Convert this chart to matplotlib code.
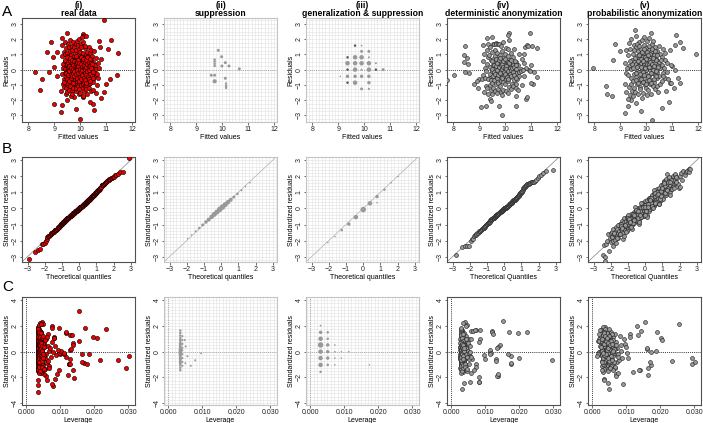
import numpy as np
import matplotlib
matplotlib.use("Agg")
import matplotlib.pyplot as plt
from matplotlib.ticker import MultipleLocator
from statistics import NormalDist

plt.rcParams['font.family'] = ['Liberation Sans', 'DejaVu Sans']

# ---------------- text ----------------
col_titles = ["(i)", "(ii)", "(iii)", "(iv)", "(v)"]
col_names = ["real data", "suppression", "generalization & suppression",
             "deterministic anonymization", "probabilistic anonymization"]
row_letters = ["A", "B", "C"]
xlab_A = "Fitted values"
ylab_A = "Residuals"
xlab_B = ["Theoretical quantiles", "Theoretical quantiles", "Theoretical quantiles",
          "Theoretical Quantiles", "Theoretical Quantiles"]
ylab_BC = "Standardized residuals"
xlab_C = "Leverage"
ticks_A_x = [8, 9, 10, 11, 12]
ticks_AB_y = [-3, -2, -1, 0, 1, 2, 3]
ticks_B_x = [-3, -2, -1, 0, 1, 2, 3]
ticks_C_x = [0.0, 0.01, 0.02, 0.03]
ticks_C_x_lab = ["0.000", "0.010", "0.020", "0.030"]
ticks_C_y = [-4, -2, 0, 2, 4]

# ---------------- (i) real data: fitted, residual, leverage ----------------
a1_fit = [10.91, 9.50, 10.08, 10.10, 8.85, 9.29, 10.72, 11.18, 8.70, 9.10, 8.94, 10.76, 11.05, 11.45, 10.80,
          8.26, 8.51, 8.80, 8.46, 8.98, 9.28, 9.47, 9.26, 9.83, 10.00, 10.36, 10.48, 10.51, 10.78, 10.91,
          10.97, 11.14, 11.39, 10.59, 9.77, 10.10, 9.10, 9.00,
          9.30, 9.28, 9.32, 9.29, 9.31, 9.27, 9.36, 9.34, 9.37, 9.35,
          9.41, 9.39, 9.42, 9.40, 9.38, 9.43, 9.46, 9.44, 9.47, 9.45,
          9.51, 9.49, 9.52, 9.50, 9.48, 9.53, 9.51, 9.49, 9.56, 9.54, 9.57, 9.55, 9.53, 9.56,
          9.61, 9.59, 9.62, 9.60, 9.58, 9.61, 9.63, 9.66, 9.64, 9.67, 9.65, 9.63, 9.66,
          9.71, 9.69, 9.72, 9.70, 9.68, 9.71, 9.73, 9.70, 9.69, 9.76, 9.74, 9.77, 9.75, 9.74,
          9.81, 9.79, 9.82, 9.80, 9.78, 9.81, 9.83, 9.86, 9.84, 9.87, 9.85, 9.83, 9.86, 9.84,
          9.91, 9.89, 9.92, 9.90, 9.88, 9.91, 9.93, 9.96, 9.94, 9.97, 9.95, 9.93, 9.96, 9.94,
          10.01, 9.99, 10.02, 10.00, 9.98, 10.01, 10.03, 10.00, 10.06, 10.04, 10.07, 10.05, 10.03, 10.06, 10.08,
          10.11, 10.09, 10.12, 10.10, 10.08, 10.11, 10.13, 10.10, 10.16, 10.14, 10.17, 10.15, 10.13, 10.16,
          10.21, 10.19, 10.22, 10.20, 10.18, 10.21, 10.23, 10.26, 10.24, 10.27, 10.25, 10.23, 10.26,
          10.31, 10.29, 10.32, 10.30, 10.28, 10.31, 10.36, 10.34, 10.37, 10.35, 10.33,
          10.41, 10.39, 10.42, 10.40, 10.38, 10.41, 10.46, 10.44, 10.47,
          10.51, 10.49, 10.52, 10.50, 10.48, 10.56, 10.54, 10.61, 10.59, 10.62, 10.66, 10.64, 10.71, 10.69]
a1_res = [3.26, 2.39, 2.35, 2.20, 1.84, 2.06, 1.90, 1.93, 1.16, 1.16, 0.86, 1.50, 1.34, 1.10, 0.70,
          -0.18, -0.64, -0.18, -1.33, -2.25, -2.32, -1.97, -2.80, -2.62, -3.28, -2.10, -2.28, -2.67, -1.85, -1.50,
          -0.93, -0.65, -0.37, -1.52, -1.80, -1.80, -0.45, 0.15,
          1.62, 0.91, 0.38, -0.31, -0.93, -1.41, 1.18, 0.08, -0.62, -1.12,
          1.83, 1.02, 0.57, -0.22, -0.83, -1.63, 1.41, 0.27, -0.41, -1.22,
          1.72, 1.08, 0.69, 0.18, -0.12, -0.71, -1.02, -1.48, 1.52, 0.87, 0.42, -0.28, -0.88, -1.31,
          1.95, 1.21, 0.61, 0.02, -0.52, -1.08, -1.72, 1.58, 0.97, 0.31, -0.19, -0.79, -1.38,
          1.79, 1.32, 0.81, 0.52, 0.11, -0.38, -0.69, -1.18, -1.62, 1.49, 0.92, 0.23, -0.32, -0.98,
          1.68, 1.12, 0.58, -0.03, -0.61, -0.91, -1.42, 1.91, 1.28, 0.72, 0.29, -0.18, -0.77, -1.21,
          1.61, 0.98, 0.41, -0.08, -0.52, -1.09, -1.58, 2.02, 1.38, 0.79, 0.21, -0.42, -0.88, -1.29,
          1.71, 1.18, 0.63, 0.09, -0.27, -0.69, -0.99, -1.52, 2.18, 1.49, 0.88, 0.32, -0.21, -0.58, -1.19,
          1.81, 1.09, 0.49, -0.02, -0.48, -0.92, -1.38, -1.71, 1.42, 0.77, 0.19, -0.31, -0.81, -1.11,
          2.21, 1.58, 0.99, 0.38, -0.11, -0.62, -1.28, 1.19, 0.61, 0.12, -0.41, -1.01, -1.59,
          1.52, 0.89, 0.28, -0.19, -0.72, -1.21, 1.08, 0.51, 0.02, -0.49, -0.97,
          1.29, 0.68, 0.22, -0.28, -0.86, -1.42, 0.92, 0.08, -0.61,
          1.22, 0.48, -0.09, -0.79, -1.33, 0.31, -0.42, 0.79, 0.01, -1.02, 0.42, -0.28, 0.12, -0.58]
a1_lev = [0.0155, 0.0045, 0.0040, 0.0048, 0.0236, 0.0076, 0.0095, 0.0172, 0.0196, 0.0081, 0.0154, 0.0118, 0.0128, 0.0209, 0.0138,
          0.0165, 0.0216, 0.0184, 0.0294, 0.0084, 0.0061, 0.0058, 0.0078, 0.0074, 0.0033, 0.0140, 0.0034, 0.0035, 0.0122, 0.0138,
          0.0170, 0.0271, 0.0302, 0.0095, 0.0089, 0.0052, 0.0118, 0.0128,
          0.0042, 0.0047, 0.0052, 0.0044, 0.0061, 0.0055, 0.0039, 0.0068, 0.0041, 0.0049,
          0.0036, 0.0058, 0.0044, 0.0098, 0.0037, 0.0046, 0.0064, 0.0038, 0.0053, 0.0040,
          0.0035, 0.0081, 0.0039, 0.0043, 0.0105, 0.0036, 0.0125, 0.0044, 0.0041, 0.0037, 0.0056, 0.0039, 0.0047, 0.0035,
          0.0076, 0.0036, 0.0042, 0.0038, 0.0050, 0.0037, 0.0043, 0.0034, 0.0045, 0.0035, 0.0057, 0.0036, 0.0040,
          0.0037, 0.0034, 0.0046, 0.0036, 0.0033, 0.0045, 0.0034, 0.0066, 0.0038, 0.0035, 0.0039, 0.0034, 0.0036, 0.0034,
          0.0039, 0.0034, 0.0037, 0.0034, 0.0036, 0.0035, 0.0034, 0.0034, 0.0036, 0.0033, 0.0035, 0.0034, 0.0037, 0.0034,
          0.0118, 0.0034, 0.0035, 0.0033, 0.0034, 0.0036, 0.0034, 0.0035, 0.0133, 0.0034, 0.0033, 0.0035, 0.0034, 0.0036,
          0.0036, 0.0034, 0.0033, 0.0034, 0.0035, 0.0034, 0.0037, 0.0035, 0.0038, 0.0035, 0.0034, 0.0033, 0.0036, 0.0034, 0.0035,
          0.0035, 0.0081, 0.0034, 0.0035, 0.0034, 0.0036, 0.0035, 0.0037, 0.0036, 0.0035, 0.0036, 0.0035, 0.0037, 0.0036,
          0.0042, 0.0038, 0.0037, 0.0036, 0.0095, 0.0038, 0.0037, 0.0041, 0.0038, 0.0040, 0.0039, 0.0125, 0.0040,
          0.0044, 0.0041, 0.0043, 0.0110, 0.0042, 0.0045, 0.0047, 0.0138, 0.0046, 0.0048, 0.0179,
          0.0049, 0.0051, 0.0131, 0.0052, 0.0165, 0.0053, 0.0056, 0.0102, 0.0058,
          0.0061, 0.0063, 0.0112, 0.0065, 0.0066, 0.0070, 0.0072, 0.0076, 0.0078, 0.0128, 0.0083, 0.0086, 0.0092, 0.0128]
# denser centre of the real-data cloud
a1_fit_b = [9.42, 9.43, 9.41, 9.44, 9.47, 9.46, 9.48, 9.47, 9.52, 9.53, 9.51, 9.52, 9.57, 9.56, 9.58, 9.57,
            9.62, 9.63, 9.61, 9.62, 9.67, 9.66, 9.68, 9.67, 9.72, 9.73, 9.71, 9.72, 9.77, 9.76, 9.78, 9.77,
            9.82, 9.83, 9.81, 9.82, 9.87, 9.86, 9.88, 9.87, 9.92, 9.93, 9.91, 9.92, 9.97, 9.96, 9.98, 9.97,
            10.02, 10.03, 10.01, 10.02, 10.07, 10.06, 10.08, 10.07, 10.12, 10.13, 10.11, 10.12,
            10.17, 10.16, 10.18, 10.17, 10.22, 10.23, 10.21, 10.22, 10.27, 10.26, 10.28, 10.27,
            10.32, 10.33, 10.31, 10.32, 10.37, 10.36, 10.38, 10.37, 10.42, 10.43, 10.41, 10.47, 10.46, 10.48]
a1_res_b = [0.05, -0.48, 0.62, -0.15, 0.35, -0.25, 0.85, -0.62, -0.05, 0.48, -0.38, 0.15, 0.22, -0.72, 0.58, -0.12,
            -0.32, 0.12, 0.78, -0.58, 0.42, -0.08, -0.45, 0.65, -0.22, 0.32, -0.85, 0.02, 0.55, -0.42, 0.18, -0.12,
            0.08, -0.28, 0.42, 0.88, -0.55, 0.12, -0.05, 0.52, 0.25, -0.72, 0.62, -0.22, -0.12, 0.45, -0.48, 0.05,
            0.35, -0.18, 0.82, -0.62, -0.38, 0.18, 0.58, -0.05, 0.12, -0.52, 0.72, 0.28,
            -0.22, 0.48, -0.68, 0.02, 0.62, -0.35, 0.15, -0.88, -0.12, 0.38, -0.48, 0.82,
            0.22, -0.62, 0.52, -0.05, -0.32, 0.28, 0.72, -0.78, 0.08, -0.42, 0.45, -0.18, 0.38, -0.55]
a1_lev_b = [0.0047, 0.0044, 0.0050, 0.0042, 0.0043, 0.0046, 0.0040, 0.0048, 0.0039, 0.0042, 0.0037, 0.0044,
            0.0038, 0.0041, 0.0036, 0.0040, 0.0036, 0.0039, 0.0035, 0.0037, 0.0035, 0.0037, 0.0034, 0.0036,
            0.0034, 0.0036, 0.0034, 0.0035, 0.0034, 0.0035, 0.0033, 0.0034, 0.0033, 0.0034, 0.0035, 0.0034,
            0.0034, 0.0033, 0.0034, 0.0035, 0.0033, 0.0034, 0.0035, 0.0034, 0.0034, 0.0033, 0.0034, 0.0035,
            0.0034, 0.0035, 0.0033, 0.0036, 0.0035, 0.0034, 0.0036, 0.0035, 0.0036, 0.0035, 0.0037, 0.0034,
            0.0036, 0.0037, 0.0035, 0.0038, 0.0038, 0.0037, 0.0039, 0.0036, 0.0039, 0.0040, 0.0038, 0.0041,
            0.0041, 0.0042, 0.0040, 0.0043, 0.0043, 0.0044, 0.0042, 0.0045, 0.0046, 0.0047, 0.0045,
            0.0050, 0.0052, 0.0049]

# ---------------- (ii) suppression ----------------
a2_fit = [9.84, 9.97, 9.70, 9.70, 9.70, 9.70, 10.11, 9.98, 10.25, 10.65, 9.57, 9.70, 9.70, 10.11, 10.14, 10.14, 10.14]
a2_res = [1.27, 0.85, 0.66, 0.53, 0.38, 0.24, 0.46, 0.24, 0.24, 0.05, -0.37, -0.37, -0.77, -0.57, -0.92, -1.07, -1.20]
a2_size = [3, 3, 2.5, 2.5, 2.5, 2.5, 3, 3, 3, 3, 3, 3, 4.2, 3, 2.5, 2.5, 2.5]

b2_theo = [-1.95, -1.72, -1.48, -1.27, -1.07, -0.88, -0.72, -0.55, -0.40, -0.24, -0.08, 0.08, 0.24, 0.40,
           0.56, 0.74, 0.95, 1.18, 1.42, 1.68]
b2_samp = [-1.88, -1.65, -1.42, -1.22, -1.02, -0.84, -0.69, -0.52, -0.37, -0.22, -0.06, 0.09, 0.24, 0.39,
           0.54, 0.71, 0.91, 1.13, 1.36, 1.60]
b2_size = [1.5, 1.5, 2, 2.5, 3, 3.5, 4, 4.5, 5, 5, 5.5, 5.5, 5, 4.5, 4, 3, 2.5, 2, 1.5, 1.5]

c2_lev = [0.0035, 0.0035, 0.0035, 0.0035, 0.0035, 0.0035, 0.0035, 0.0035, 0.0035, 0.0035, 0.0035,
          0.0035, 0.0035, 0.0035, 0.0035, 0.0035, 0.0035, 0.0035, 0.0035, 0.0035,
          0.0041, 0.0041, 0.0041, 0.0041, 0.0041, 0.0041, 0.0041, 0.0041, 0.0041,
          0.0048, 0.0051, 0.0056, 0.0050, 0.0066, 0.0079, 0.0096]
c2_std = [1.64, 1.45, 1.25, 1.05, 0.90, 0.75, 0.60, 0.45, 0.30, 0.15, 0.00, -0.15, -0.30, -0.45, -0.60,
          -0.75, -0.90, -1.05, -1.25, -1.44,
          1.20, 0.90, 0.60, 0.30, 0.10, -0.20, -0.50, -0.80, -1.10,
          0.90, 0.40, -0.36, -0.90, -1.10, -0.67, -0.13]
c2_size = [2.5, 2.5, 2.5, 2.5, 2.5, 2.5, 3, 3, 3, 3.5, 3.5, 3.5, 3, 3, 3, 3, 3, 2.5, 2.5, 2.5,
           2.2, 2.2, 2.2, 2.2, 2.2, 2.2, 2.2, 2.2, 2.2,
           2, 2, 2, 2, 2, 2, 1.8]

# ---------------- (iii) generalization & suppression ----------------
a3_fit = [9.64, 9.89, 9.89, 10.17, 9.35, 9.64, 9.89, 10.17, 9.35, 9.64, 9.89, 10.17, 10.44,
          9.35, 9.64, 9.89, 10.17, 10.44, 10.72, 9.07, 9.35, 9.64, 9.89, 10.17, 9.35, 9.64, 10.17, 9.89, 10.17]
a3_res = [1.58, 1.58, 1.20, 1.20, 0.81, 0.81, 0.81, 0.81, 0.42, 0.42, 0.42, 0.42, 0.42,
          0.00, 0.00, 0.00, 0.00, 0.00, 0.00, -0.44, -0.44, -0.44, -0.44, -0.44, -0.86, -0.86, -0.86, -1.27, -1.27]
a3_size = [2.5, 1.8, 3, 3, 2.5, 4.5, 4.5, 2, 4.5, 4.5, 4.5, 4.5, 2,
           2.5, 4.5, 2, 4.5, 2.5, 3, 1.5, 3.5, 3.5, 3.5, 3.5, 2.5, 4.5, 3.5, 3, 2.2]
a3_tone = ["#555555", "#999999", "#999999", "#999999", "#555555", "#999999", "#999999", "#999999",
           "#999999", "#999999", "#999999", "#999999", "#999999",
           "#555555", "#999999", "#999999", "#999999", "#555555", "#999999", "#999999", "#999999",
           "#999999", "#999999", "#999999", "#555555", "#999999", "#999999", "#999999", "#999999"]

b3_theo = [-2.05, -1.63, -1.24, -0.83, -0.42, 0.01, 0.40, 0.81, 0.81, 1.24, 1.63, 2.04]
b3_samp = [-2.12, -1.75, -1.35, -0.97, -0.54, -0.07, 0.32, 0.74, 0.36, 1.17, 1.60, 1.98]
b3_size = [1.5, 1.5, 2.5, 3.5, 4.5, 5.5, 4.5, 3.5, 1.5, 2.5, 1.5, 1.5]

c3_lev = [0.0030, 0.0030, 0.0030, 0.0030, 0.0030, 0.0030, 0.0030, 0.0030,
          0.0051, 0.0051, 0.0051, 0.0051, 0.0051, 0.0051,
          0.0072, 0.0072, 0.0072, 0.0072, 0.0091, 0.0091, 0.0113, 0.0174]
c3_std = [2.02, 1.50, 1.00, 0.52, 0.00, -0.50, -1.03, -1.57,
          1.50, 1.00, 0.52, 0.00, -0.50, -1.03,
          0.52, 0.00, -0.50, -1.03, 0.00, -0.50, 0.00, -1.03]
c3_size = [1.8, 3.5, 4.5, 5.5, 4.5, 4.5, 4.5, 2.5,
           2.5, 2.5, 3.5, 3.5, 3.5, 2.5,
           1.6, 1.6, 1.6, 1.6, 1.5, 1.5, 1.5, 1.5]

# ---------------- (iv) deterministic anonymization ----------------
a4_fit = [7.74, 8.03, 8.46, 8.42, 8.51, 8.42, 8.55, 8.46, 8.58, 9.07, 9.27, 9.40, 9.76, 9.86, 10.39, 10.41,
          10.78, 10.82, 10.95, 10.77, 10.84, 10.88, 11.03, 11.23, 11.20, 11.05, 10.98, 10.15, 10.11, 9.47,
          9.30, 11.00, 10.90, 10.80, 10.95, 11.10, 9.00, 8.90, 8.80, 8.95, 9.10, 9.45,
          9.12, 9.18, 9.15, 9.22, 9.14, 9.20, 9.25, 9.17,
          9.32, 9.28, 9.33, 9.30, 9.27, 9.35, 9.31, 9.29, 9.34,
          9.42, 9.38, 9.44, 9.40, 9.41, 9.43, 9.39, 9.45,
          9.52, 9.55, 9.48, 9.51, 9.53, 9.49, 9.55, 9.50, 9.52, 9.48,
          9.62, 9.65, 9.58, 9.61, 9.63, 9.59, 9.64, 9.60, 9.62, 9.58,
          9.72, 9.75, 9.68, 9.71, 9.73, 9.69, 9.74, 9.70, 9.72, 9.68,
          9.82, 9.78, 9.81, 9.83, 9.79, 9.84, 9.80, 9.82,
          9.92, 9.88, 9.91, 9.93, 9.89, 9.94, 9.90, 9.92, 9.88,
          10.02, 9.98, 10.01, 10.03, 9.99, 10.04, 10.00, 10.02,
          10.12, 10.08, 10.11, 10.13, 10.09, 10.14, 10.10, 10.12, 10.08,
          10.22, 10.18, 10.21, 10.23, 10.19, 10.24, 10.20,
          10.32, 10.28, 10.31, 10.33, 10.29, 10.34, 10.30,
          10.42, 10.38, 10.41, 10.43, 10.39, 10.40,
          10.52, 10.48, 10.51, 10.53, 10.49,
          10.62, 10.58, 10.61, 10.63, 10.72, 10.68, 10.71, 10.70]
a4_res = [-0.69, -0.36, 1.57, 0.98, 0.77, 0.49, 0.39, -0.17, -0.24, -2.49, -2.42, -1.93, -2.42, -2.97, -1.72, -2.42,
          -1.93, -1.78, 2.42, 1.50, 1.62, 1.55, 1.55, 1.43, -0.50, -0.95, -0.88, 2.38, 2.27, 2.16,
          2.08, 0.30, 0.00, 0.10, -0.10, -0.15, -0.60, -0.75, -0.95, -1.20, -0.62, -2.05,
          1.62, 1.05, 0.55, 0.12, -0.35, -0.58, -1.08, -1.45,
          1.71, 1.28, 0.81, 0.35, -0.12, -0.55, -0.62, -1.22, -1.58,
          1.48, 0.98, 0.62, 0.18, -0.32, -0.71, -1.02, -1.31,
          1.68, 1.72, 1.19, 0.72, 0.28, -0.08, -0.45, -0.86, -1.18, -1.62,
          1.75, 1.69, 1.32, 0.91, 0.46, 0.05, -0.22, -0.65, -0.95, -1.38,
          1.71, 1.66, 1.12, 0.68, 0.22, -0.15, -0.52, -0.88, -1.25, -1.55,
          1.58, 0.95, 0.52, 0.10, -0.31, -0.72, -1.10, -1.45,
          1.82, 1.25, 0.78, 0.35, -0.05, -0.42, -0.82, -1.32, -1.68,
          1.45, 1.02, 0.58, 0.15, -0.25, -0.61, -0.98, -1.42,
          1.92, 1.35, 0.88, 0.42, 0.02, -0.35, -0.75, -1.15, -1.52,
          1.12, 0.65, 0.25, -0.12, -0.48, -0.92, -1.28,
          1.38, 0.85, 0.38, 0.00, -0.38, -0.68, -1.05,
          0.52, 0.12, -0.25, -0.62, -0.95, -1.22,
          1.02, 0.28, -0.18, -0.45, -1.35,
          0.72, 0.05, -0.08, -1.02, 0.45, -0.05, -0.40, 1.05]
a4_lev = [0.0297, 0.0175, 0.0170, 0.0085, 0.0080, 0.0144, 0.0138, 0.0167, 0.0095, 0.0037, 0.0055, 0.0138, 0.0080, 0.0031, 0.0058, 0.0080,
          0.0135, 0.0136, 0.0151, 0.0196, 0.0120, 0.0121, 0.0222, 0.0123, 0.0199, 0.0177, 0.0175, 0.0040, 0.0035, 0.0045,
          0.0042, 0.0133, 0.0113, 0.0114, 0.0116, 0.0115, 0.0130, 0.0132, 0.0071, 0.0073, 0.0098, 0.0080,
          0.0058, 0.0052, 0.0049, 0.0047, 0.0055, 0.0061, 0.0044, 0.0066,
          0.0073, 0.0043, 0.0040, 0.0039, 0.0045, 0.0041, 0.0052, 0.0038, 0.0047,
          0.0036, 0.0035, 0.0037, 0.0034, 0.0036, 0.0038, 0.0035, 0.0037,
          0.0065, 0.0070, 0.0034, 0.0033, 0.0032, 0.0033, 0.0032, 0.0034, 0.0033, 0.0035,
          0.0083, 0.0031, 0.0030, 0.0031, 0.0030, 0.0031, 0.0030, 0.0031, 0.0030, 0.0032,
          0.0030, 0.0029, 0.0029, 0.0028, 0.0029, 0.0028, 0.0029, 0.0028, 0.0029, 0.0030,
          0.0028, 0.0028, 0.0027, 0.0027, 0.0028, 0.0027, 0.0028, 0.0027,
          0.0028, 0.0027, 0.0027, 0.0026, 0.0027, 0.0026, 0.0027, 0.0026, 0.0028,
          0.0027, 0.0026, 0.0027, 0.0026, 0.0027, 0.0026, 0.0027, 0.0028,
          0.0029, 0.0028, 0.0028, 0.0027, 0.0028, 0.0029, 0.0028, 0.0029, 0.0030,
          0.0031, 0.0030, 0.0031, 0.0030, 0.0032, 0.0031, 0.0033,
          0.0034, 0.0035, 0.0033, 0.0035, 0.0034, 0.0036, 0.0035,
          0.0038, 0.0037, 0.0039, 0.0038, 0.0040, 0.0041,
          0.0043, 0.0042, 0.0044, 0.0045, 0.0046,
          0.0050, 0.0049, 0.0051, 0.0052, 0.0056, 0.0055, 0.0057, 0.0058]
a4_fit_b = [9.50, 9.51, 9.49, 9.56, 9.57, 9.55, 9.62, 9.61, 9.63, 9.68, 9.69, 9.67, 9.74, 9.73, 9.75,
            9.80, 9.81, 9.79, 9.86, 9.85, 9.87, 9.92, 9.93, 9.91, 9.98, 9.97, 9.99, 10.04, 10.05, 10.03,
            10.10, 10.09, 10.11, 10.16, 10.17, 10.15, 10.22, 10.21, 10.23, 10.28, 10.29, 10.27,
            10.34, 10.33, 10.35, 10.40, 10.41, 10.39]
a4_res_b = [0.05, -0.42, 0.55, -0.15, 0.32, -0.68, 0.22, -0.28, 0.72, -0.05, 0.45, -0.52, 0.15, -0.35, 0.62,
            -0.22, 0.28, 0.78, 0.02, -0.58, 0.38, 0.18, -0.15, 0.55, -0.32, 0.08, 0.68, 0.25, -0.48, 0.02,
            -0.12, 0.52, -0.65, 0.12, -0.28, 0.42, -0.05, 0.65, -0.45, 0.32, -0.18, 0.08,
            -0.35, 0.18, 0.55, 0.05, -0.55, 0.28]
a4_lev_b = [0.0033, 0.0034, 0.0033, 0.0032, 0.0033, 0.0031, 0.0031, 0.0030, 0.0032, 0.0030, 0.0029, 0.0031,
            0.0029, 0.0028, 0.0030, 0.0028, 0.0027, 0.0029, 0.0027, 0.0028, 0.0026, 0.0027, 0.0026, 0.0028,
            0.0026, 0.0027, 0.0026, 0.0027, 0.0026, 0.0028, 0.0028, 0.0027, 0.0029, 0.0029, 0.0028, 0.0030,
            0.0030, 0.0031, 0.0029, 0.0032, 0.0031, 0.0033, 0.0034, 0.0033, 0.0035, 0.0036, 0.0035, 0.0037]

# ---------------- (v) probabilistic anonymization ----------------
a5_fit = [7.96, 8.43, 8.50, 8.73, 8.66, 8.78, 8.97, 9.18, 9.55, 10.17, 10.20, 11.12, 11.40, 11.90, 11.30,
          11.20, 10.90, 11.05, 10.95, 10.75, 10.85, 9.35, 9.42, 9.60, 9.80, 9.30, 10.60, 11.30, 11.10, 10.90,
          11.00, 10.95, 11.10,
          9.21, 9.18, 9.23, 9.19, 9.22, 9.31, 9.28, 9.33, 9.29, 9.32, 9.30,
          9.41, 9.38, 9.43, 9.39, 9.42, 9.40, 9.44, 9.51, 9.48, 9.53, 9.49, 9.52, 9.50, 9.54, 9.47,
          9.61, 9.58, 9.63, 9.59, 9.62, 9.60, 9.64, 9.57,
          9.71, 9.68, 9.73, 9.69, 9.72, 9.70, 9.74, 9.67, 9.71,
          9.81, 9.78, 9.83, 9.79, 9.82, 9.80, 9.84, 9.77, 9.81, 9.79,
          9.91, 9.88, 9.93, 9.89, 9.92, 9.90, 9.94, 9.87, 9.91, 9.89,
          10.01, 9.98, 10.03, 9.99, 10.02, 10.00, 10.04, 9.97, 10.01, 10.03, 9.98,
          10.11, 10.08, 10.13, 10.09, 10.12, 10.10, 10.14, 10.07, 10.11, 10.09,
          10.21, 10.18, 10.23, 10.19, 10.22, 10.20, 10.24, 10.17, 10.21,
          10.31, 10.28, 10.33, 10.29, 10.32, 10.30, 10.34, 10.27,
          10.41, 10.38, 10.43, 10.39, 10.42, 10.40, 10.44,
          10.51, 10.48, 10.53, 10.49, 10.52, 10.50,
          10.61, 10.58, 10.63, 10.59, 10.62, 10.71, 10.68, 10.73, 10.70, 10.81, 10.78, 10.83,
          9.55, 9.65, 9.75, 9.85, 9.95, 10.05, 10.15, 10.25, 10.35, 10.45, 9.60, 9.70, 9.80, 9.90, 10.00,
          10.10, 10.20, 10.30, 10.40, 9.52, 9.62, 9.72, 9.82, 9.92, 10.02, 10.12, 10.22, 10.32, 9.58,
          9.68, 9.78, 9.88, 9.98, 10.08, 10.18, 10.28, 10.38, 9.66, 9.76, 9.86, 9.96, 10.06, 10.16,
          10.26, 10.36, 9.45, 9.35, 10.55, 10.65, 9.25]
a5_res = [0.10, -1.07, -1.60, 0.64, -1.77, 1.70, 1.20, -2.86, 2.64, 2.43, -3.30, 2.30, 1.43, 1.00, -0.90,
          -0.55, -0.85, -1.20, -0.88, -1.42, -2.10, -1.65, -2.00, -2.20, -2.74, -2.40, -2.50, 1.82, 1.60, 1.30,
          0.25, 0.30, 0.00,
          1.32, 0.45, -0.25, -0.92, -1.45, 1.78, 0.95, 0.22, -0.38, -1.12, -1.92,
          2.02, 1.35, 0.65, 0.02, -0.55, -0.95, -1.38, 1.62, 1.05, 0.48, 0.12, -0.32, -0.78, -1.22, -1.72,
          2.22, 1.48, 0.88, 0.35, -0.08, -0.48, -0.98, -1.45,
          1.85, 1.22, 0.72, 0.25, -0.18, -0.62, -1.12, -1.58, 0.50,
          1.95, 1.38, 0.92, 0.42, 0.05, -0.38, -0.82, -1.28, -1.85, 0.70,
          1.62, 1.12, 0.68, 0.28, -0.12, -0.55, -1.02, -1.52, 2.15, 0.45,
          1.88, 1.42, 0.95, 0.52, 0.15, -0.28, -0.72, -1.18, -1.65, 0.35, -0.05,
          2.05, 1.28, 0.82, 0.38, -0.02, -0.45, -0.92, -1.35, 1.55, 0.62,
          1.72, 1.15, 0.58, 0.18, -0.22, -0.68, -1.08, -1.62, 0.95,
          1.48, 0.98, 0.45, 0.05, -0.35, -0.82, -1.28, 1.90,
          1.25, 0.72, 0.28, -0.15, -0.58, -1.05, -1.48,
          1.05, 0.52, 0.08, -0.42, -0.95, 1.55,
          0.85, 0.32, -0.25, -0.72, 1.35, 0.62, 0.10, -0.52, 1.10, 0.45, -0.15, -0.60,
          0.75, 0.15, 1.05, -0.15, 0.85, -0.45, 0.50, -0.05, 0.65, 0.20, -0.25, 0.95, 0.20, -0.35, 0.70,
          0.15, 0.40, 0.25, 0.95, 1.30, 1.70, 1.55, 1.15, 1.35, 1.15, 1.05, 1.35, 1.20, -0.70,
          -0.90, -0.60, -0.80, -0.95, -0.70, -0.90, -0.60, -0.40, 0.55, -0.30, 0.60, 0.10, 0.95, -0.25,
          0.75, -0.10, 0.35, 0.60, 0.65, -0.45, 0.10]
a5_lev = [0.0187, 0.0294, 0.0140, 0.0095, 0.0119, 0.0191, 0.0201, 0.0090, 0.0154, 0.0256, 0.0048, 0.0130, 0.0135, 0.0204, 0.0302,
          0.0294, 0.0234, 0.0173, 0.0169, 0.0164, 0.0164, 0.0138, 0.0070, 0.0070, 0.0046, 0.0034, 0.0034, 0.0143, 0.0110, 0.0110,
          0.0160, 0.0162, 0.0174,
          0.0061, 0.0058, 0.0066, 0.0072, 0.0068, 0.0055, 0.0052, 0.0057, 0.0049, 0.0060, 0.0075,
          0.0050, 0.0046, 0.0044, 0.0048, 0.0051, 0.0045, 0.0053, 0.0042, 0.0039, 0.0041, 0.0038, 0.0044, 0.0040, 0.0043, 0.0046,
          0.0037, 0.0035, 0.0036, 0.0034, 0.0037, 0.0035, 0.0036, 0.0038,
          0.0033, 0.0032, 0.0031, 0.0033, 0.0030, 0.0032, 0.0031, 0.0034, 0.0029,
          0.0029, 0.0028, 0.0027, 0.0028, 0.0026, 0.0028, 0.0027, 0.0029, 0.0031, 0.0025,
          0.0042, 0.0026, 0.0055, 0.0031, 0.0025, 0.0048, 0.0036, 0.0062, 0.0030, 0.0044,
          0.0024, 0.0051, 0.0033, 0.0022, 0.0046, 0.0028, 0.0058, 0.0035, 0.0027, 0.0041, 0.0020,
          0.0038, 0.0022, 0.0053, 0.0029, 0.0019, 0.0045, 0.0032, 0.0066, 0.0018, 0.0040,
          0.0035, 0.0019, 0.0049, 0.0027, 0.0016, 0.0043, 0.0031, 0.0060, 0.0015,
          0.0032, 0.0018, 0.0047, 0.0025, 0.0014, 0.0039, 0.0056, 0.0021,
          0.0039, 0.0041, 0.0043, 0.0045, 0.0047, 0.0049, 0.0052,
          0.0055, 0.0057, 0.0059, 0.0062, 0.0064, 0.0067,
          0.0070, 0.0072, 0.0075, 0.0078, 0.0080, 0.0083, 0.0085, 0.0088, 0.0092, 0.0098, 0.0102, 0.0106,
          0.0040, 0.0052, 0.0032, 0.0061, 0.0027, 0.0045, 0.0035, 0.0058, 0.0030, 0.0068, 0.0037, 0.0049,
          0.0029, 0.0055, 0.0033, 0.0043, 0.0026, 0.0064, 0.0040, 0.0047, 0.0034, 0.0057, 0.0031, 0.0050,
          0.0028, 0.0062, 0.0036, 0.0044, 0.0041, 0.0053, 0.0030, 0.0048, 0.0035, 0.0059, 0.0027, 0.0046,
          0.0038, 0.0070, 0.0033, 0.0051, 0.0029, 0.0056, 0.0039, 0.0045, 0.0032, 0.0046, 0.0053, 0.0058,
          0.0074, 0.0060]

b5_theo = [-2.46, -2.36, -2.33, -2.40, -2.27, -2.20, -2.15, -2.07, -2.05, -2.00, -1.98, -1.94, -1.88, -1.95,
           -1.90, -1.88, -1.85, -1.80, -1.75, -1.72, -1.70, -1.65, -1.62, -1.60, -1.55, -1.52, -1.50, -1.47,
           -1.45, -1.42, -1.40, -1.37, -1.35, -1.32, -1.30, -1.27, -1.25, -1.22, -1.20, -1.17, -1.15, -1.12,
           -1.10, -1.07, -1.05, -1.02, -1.00, -0.97, -0.95, -0.92, -0.90, -0.87, -0.85, -0.82, -0.80, -0.77,
           -0.75, -0.72, -0.70, -0.67, -0.65, -0.62, -0.60, -0.57, -0.55, -0.52, -0.50, -0.47, -0.45, -0.42,
           -0.40, -0.37, -0.35, -0.32, -0.30, -0.27, -0.25, -0.22, -0.20, -0.17, -0.15, -0.12, -0.10, -0.07,
           -0.05, -0.02, 0.00, 0.02, 0.05, 0.07, 0.10, 0.12, 0.15, 0.17, 0.20, 0.22, 0.25, 0.27, 0.30, 0.32,
           0.35, 0.37, 0.40, 0.42, 0.45, 0.47, 0.50, 0.52, 0.55, 0.57, 0.60, 0.62, 0.65, 0.67, 0.70, 0.72,
           0.75, 0.77, 0.80, 0.82, 0.85, 0.87, 0.90, 0.92, 0.95, 0.97, 1.00, 1.02, 1.05, 1.07, 1.10, 1.12,
           1.15, 1.17, 1.20, 1.22, 1.25, 1.27, 1.30, 1.32, 1.35, 1.40, 1.42, 1.45, 1.50, 1.52, 1.55, 1.60,
           1.62, 1.65, 1.70, 1.75, 1.80, 1.85, 1.90, 1.95, 2.00, 2.05, 2.10, 2.15, 2.19, 2.30, 2.35, 2.45,
           2.54, 2.58, 2.63]
b5_samp = [-2.87, -3.25, -3.05, -2.30, -2.24, -2.05, -1.60, -2.66, -1.85, -2.10, -1.50, -1.75, -2.35, -1.45,
           -1.75, -2.05, -1.30, -1.60, -1.95, -1.40, -1.15, -1.70, -1.25, -1.50, -1.85, -1.05, -1.40, -1.60,
           -0.95, -1.25, -1.50, -1.10, -0.75, -1.35, -1.00, -1.55, -0.85, -1.20, -0.60, -1.00, -1.35, -0.80,
           -1.10, -0.55, -0.95, -1.25, -0.70, -0.45, -1.00, -0.80, -0.50, -1.15, -0.65, -0.35, -0.90, -0.60,
           -1.05, -0.40, -0.75, -0.20, -0.55, -0.90, -0.30, -0.65, -0.10, -0.45, -0.80, -0.25, -0.55, 0.05,
           -0.35, -0.70, -0.15, -0.45, 0.10, -0.25, -0.55, 0.00, -0.30, 0.25, -0.10, -0.45, 0.15, -0.15,
           0.35, -0.30, 0.05, 0.45, -0.20, 0.20, -0.40, 0.50, 0.00, 0.30, -0.15, 0.60, 0.15, 0.45, -0.05, 0.70,
           0.25, 0.55, 0.05, 0.85, 0.35, 0.65, 0.15, 0.95, 0.45, 0.75, 0.25, 1.05, 0.55, 0.90, 0.35, 1.20,
           0.65, 1.00, 0.45, 1.30, 0.80, 1.10, 0.55, 1.45, 0.90, 1.20, 0.65, 1.55, 1.00, 1.30, 0.75, 1.70,
           1.10, 1.40, 0.85, 1.85, 1.20, 2.15, 0.95, 1.55, 1.30, 1.75, 1.00, 1.45, 1.90, 1.20, 1.60, 2.00,
           1.35, 1.75, 1.45, 2.10, 1.60, 1.90, 1.50, 1.30, 2.00, 1.32, 2.20, 1.75, 2.33, 2.10, 2.25, 2.30,
           2.43, 2.25, 2.45]
b5_theo_b = [-1.80, -1.70, -1.58, -1.46, -1.38, -1.28, -1.18, -1.08, -0.98, -0.88, -0.78, -0.68, -0.58, -0.48,
             -0.38, -0.28, -0.18, -0.08, 0.02, 0.12, 0.22, 0.32, 0.42, 0.52, 0.62, 0.72, 0.82, 0.92, 1.02, 1.12,
             1.22, 1.32, 1.42, 1.52, 1.62, 1.72, 1.82,
             -1.62, -1.42, -1.22, -1.02, -0.82, -0.62, -0.42, -0.22, -0.02, 0.18, 0.38, 0.58, 0.78, 0.98, 1.18,
             1.38, 1.58, 1.78,
             -1.33, -1.13, -0.93, -0.73, -0.53, -0.33, -0.13, 0.07, 0.27, 0.47, 0.67, 0.87, 1.07, 1.27, 1.47, 1.67,
             -0.63, -0.43, -0.23, -0.03, 0.17, 0.37, 0.57, 0.77, -0.90, 0.90, 0.30, -0.30]
b5_samp_b = [-1.55, -2.15, -1.03, -1.56, -0.98, -1.88, -1.03, -1.38, -0.38, -0.93, -1.28, -0.33, 0.12, -0.73,
             -0.98, -0.18, 0.32, -0.48, 0.22, -0.53, 0.67, 0.37, 0.07, 1.12, 0.42, 1.02, 0.27, 1.07, 0.57, 1.62,
             1.12, 1.67, 0.82, 1.77, 1.32, 2.12, 1.67,
             -1.82, -1.12, -1.72, -0.57, -1.17, -0.42, -0.57, 0.33, -0.42, 0.28, 0.13, 0.98, 0.28, 1.28, 0.98,
             1.93, 1.23, 1.93,
             -1.23, -1.48, -0.63, -0.88, -0.08, -0.83, 0.12, -0.13, 0.62, 0.02, 0.82, 0.57, 1.57, 1.17, 1.67, 1.27,
             -0.73, -0.18, -0.53, 0.12, 0.12, 0.67, 0.37, 0.87, -0.85, 0.80, 0.50, -0.40]


# ---------------- helpers ----------------
W, H = 703, 423
col_left = [22, 164, 306, 447, 588]
col_w = 113
row_top = [18, 157, 297]
row_h = [104, 105, 108]
xlims = [(7.75, 12.1), (-3.32, 3.25), (-0.0013, 0.032)]
ylims = [(-3.45, 3.4), (-3.33, 3.2), (-4.15, 4.25)]
light = [False, True, True, False, False]


def px_size(d):
    return (0.72 * d) ** 2


def stdres(r, h):
    r = np.asarray(r, float)
    h = np.asarray(h, float)
    s = np.sqrt(np.sum(r ** 2) / (len(r) - 2))
    return r / (s * np.sqrt(1 - h))


def qq(z):
    z = np.sort(np.asarray(z, float))
    n = len(z)
    p = (np.arange(1, n + 1) - 0.5) / n
    theo = np.array([NormalDist().inv_cdf(v) for v in p])
    return theo, z


fig = plt.figure(figsize=(W / 100, H / 100), dpi=100)
axes = {}
for r in range(3):
    for c in range(5):
        ax = fig.add_axes([col_left[c] / W, 1 - (row_top[r] + row_h[r]) / H, col_w / W, row_h[r] / H])
        axes[(r, c)] = ax
        ax.set_xlim(*xlims[r])
        ax.set_ylim(*ylims[r])
        fc = '#c4c4c4' if light[c] else '#505050'
        for sp in ax.spines.values():
            sp.set_color(fc)
            sp.set_linewidth(0.8)
        ax.tick_params(axis='both', which='major', length=1.8, width=0.5, pad=0.8, labelsize=5,
                       color='#333333', labelcolor='#222222')
        ax.tick_params(axis='both', which='minor', length=0)
        if r == 0:
            ax.set_xticks(ticks_A_x)
            ax.set_yticks(ticks_AB_y)
            ax.set_xlabel(xlab_A, fontsize=5, labelpad=0.8)
            ax.set_ylabel(ylab_A, fontsize=5, labelpad=0.5)
            gx, gy = 0.125, 0.25
        elif r == 1:
            ax.set_xticks(ticks_B_x)
            ax.set_yticks(ticks_AB_y)
            ax.set_xlabel(xlab_B[c], fontsize=5, labelpad=0.8)
            ax.set_ylabel(ylab_BC, fontsize=5, labelpad=0.5)
            gx, gy = 0.2, 0.2
        else:
            ax.set_xticks(ticks_C_x)
            ax.set_xticklabels(ticks_C_x_lab)
            ax.set_yticks(ticks_C_y)
            ax.set_xlabel(xlab_C, fontsize=5, labelpad=0.8)
            ax.set_ylabel(ylab_BC, fontsize=5, labelpad=0.5)
            gx, gy = 0.001, 0.25
        for lab in ax.get_yticklabels():
            lab.set_rotation(90)
            lab.set_va('center')
        if light[c]:
            ax.xaxis.set_minor_locator(MultipleLocator(gx))
            ax.yaxis.set_minor_locator(MultipleLocator(gy))
            ax.grid(True, which='both', color='#e4e4e4', lw=0.45, zorder=0)
            ax.set_axisbelow(True)
        dcol = '#9a9a9a' if light[c] else 'black'
        if r in (0, 2):
            ax.axhline(0, color=dcol, lw=0.6, ls=(0, (1, 1.3)), zorder=1)
        if r == 2:
            ax.axvline(0, color=dcol, lw=0.6, ls=(0, (1, 1.3)), zorder=1)
        if r == 1:
            ax.axline((0, 0), slope=1, color='#b0b0b0' if light[c] else '#808080', lw=0.5, zorder=1)

# column headers and row letters
for c in range(5):
    cx = (col_left[c] + col_w / 2) / W
    fig.text(cx, 1 - 5 / H, col_titles[c], ha='center', va='center', fontsize=6.2, fontweight='bold')
    fig.text(cx, 1 - 14 / H, col_names[c], ha='center', va='center', fontsize=6.2, fontweight='bold')
for r, yy in zip(range(3), [12, 149, 287]):
    fig.text(2 / W, 1 - yy / H, row_letters[r], ha='left', va='center', fontsize=11)

red_kw = dict(s=px_size(4.2), c='#ee0000', edgecolors='black', linewidths=0.4, zorder=3)
gray_kw = dict(s=px_size(3.9), c='#9a9a9a', edgecolors='#262626', linewidths=0.45, zorder=3)
light_c = '#999999'

# (i) real data
f1 = a1_fit + a1_fit_b
r1 = a1_res + a1_res_b
h1 = a1_lev + a1_lev_b
z1 = stdres(r1, h1)
axes[(0, 0)].scatter(f1, r1, **red_kw)
t1, s1 = qq(z1)
axes[(1, 0)].scatter(t1, s1, **red_kw)
axes[(2, 0)].scatter(h1, z1, **red_kw)

# (ii) suppression
axes[(0, 1)].scatter(a2_fit, a2_res, s=[px_size(d) for d in a2_size], c=light_c, edgecolors='none', zorder=3)
axes[(1, 1)].scatter(b2_theo, b2_samp, s=[px_size(d) for d in b2_size], c=light_c, edgecolors='none', zorder=3)
axes[(2, 1)].scatter(c2_lev, c2_std, s=[px_size(d) for d in c2_size], c=light_c, edgecolors='none', zorder=3)

# (iii) generalization & suppression
axes[(0, 2)].scatter(a3_fit, a3_res, s=[px_size(d) for d in a3_size], c=a3_tone, edgecolors='none', zorder=3)
axes[(1, 2)].scatter(b3_theo, b3_samp, s=[px_size(d) for d in b3_size], c=light_c, edgecolors='none', zorder=3)
axes[(2, 2)].scatter(c3_lev, c3_std, s=[px_size(d) for d in c3_size], c=light_c, edgecolors='none', zorder=3)

# (iv) deterministic anonymization
f4 = a4_fit + a4_fit_b
r4 = a4_res + a4_res_b
h4 = a4_lev + a4_lev_b
z4 = stdres(r4, h4)
axes[(0, 3)].scatter(f4, r4, **gray_kw)
t4, s4 = qq(z4)
axes[(1, 3)].scatter(t4, s4, **gray_kw)
axes[(2, 3)].scatter(h4, z4, **gray_kw)

# (v) probabilistic anonymization
z5 = stdres(a5_res, a5_lev)
axes[(0, 4)].scatter(a5_fit, a5_res, **gray_kw)
axes[(1, 4)].scatter(b5_theo + b5_theo_b, b5_samp + b5_samp_b, **gray_kw)
axes[(2, 4)].scatter(a5_lev, z5, **gray_kw)

fig.savefig("out.png", dpi=100)
